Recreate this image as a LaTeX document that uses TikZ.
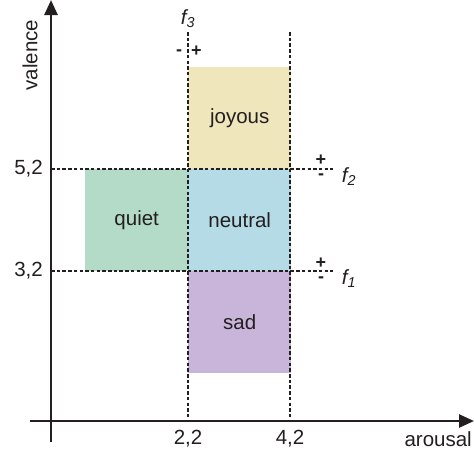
\documentclass[tikz,border=0pt]{standalone}
\usepackage{fontspec}
\setmainfont{Liberation Sans}
\usetikzlibrary{arrows.meta}
\definecolor{cjoy}{HTML}{EFE6BC}
\definecolor{cquiet}{HTML}{B3DBC8}
\definecolor{cneutral}{HTML}{B4DBE6}
\definecolor{csad}{HTML}{C9B5DA}
\definecolor{ink}{HTML}{231F20}
\begin{document}
\begin{tikzpicture}[x=1pt,y=-1pt,
  region/.style={inner sep=0pt, minimum width=103pt, minimum height=102pt, anchor=north west, text=ink, font=\fontsize{20.5}{24}\selectfont},
  lbl/.style={inner sep=0pt, text=ink, font=\fontsize{20.5}{24}\selectfont},
  sgn/.style={inner sep=0pt, anchor=base, text=ink, font=\fontsize{18}{20}\selectfont\bfseries},
  flbl/.style={inner sep=0pt, text=ink, font=\fontsize{20.5}{24}\selectfont\itshape},
  axis/.style={line width=2.6pt, draw=ink},
  guide/.style={line width=1.5pt, draw=ink, dash pattern=on 3.5pt off 2.2pt}
]
\useasboundingbox (0,0) rectangle (474,461);
% regions
\node[region, fill=cjoy] (joy) at (188,67) {joyous};
\node[region, fill=cquiet] (quiet) at (85,169) {quiet};
\node[region, fill=cneutral] (neutral) at (188,169) {neutral};
\node[region, fill=csad] (sad) at (188,271) {sad};
% axes
\coordinate (ytop) at (51,0);
\coordinate (ybot) at (51,442);
\coordinate (xleft) at (30,421);
\coordinate (xright) at (474,421);
\draw[axis, -{Triangle[length=15pt,width=13pt]}] (ybot) -- (ytop);
\draw[axis, -{Triangle[length=15pt,width=13pt]}] (xleft) -- (xright);
% guides
\coordinate (v1t) at (188,32); \coordinate (v1b) at (188,421);
\coordinate (v2t) at (290,32); \coordinate (v2b) at (290,421);
\coordinate (h1l) at (51,169); \coordinate (h1r) at (333,169);
\coordinate (h2l) at (51,271); \coordinate (h2r) at (333,271);
\draw[guide] (v1t) -- (v1b);
\draw[guide] (v2t) -- (v2b);
\draw[guide] (h1l) -- (h1r);
\draw[guide] (h2l) -- (h2r);
% axis labels
\node[lbl, rotate=90] (valence) at (30,55) {valence};
\node[lbl, anchor=east] (t52) at (43,169) {5,2};
\node[lbl, anchor=east] (t32) at (43,271) {3,2};
\node[lbl] (t22) at (188,439) {2,2};
\node[lbl] (t42) at (290,439) {4,2};
\node[lbl, anchor=east] (arousal) at (472,439) {arousal};
% f labels
\node[flbl] (f3) at (188,19) {f\textsubscript{3}};
\node[sgn] (f3m) at (179,55) {-};
\node[sgn] (f3p) at (196.5,56.6) {+};
\node[flbl] (f2) at (349,177) {f\textsubscript{2}};
\node[sgn] (f2p) at (321,165.6) {+};
\node[sgn] (f2m) at (321,179.5) {-};
\node[flbl] (f1) at (349,279) {f\textsubscript{1}};
\node[sgn] (f1p) at (321,268) {+};
\node[sgn] (f1m) at (321,282) {-};
\end{tikzpicture}
\end{document}
